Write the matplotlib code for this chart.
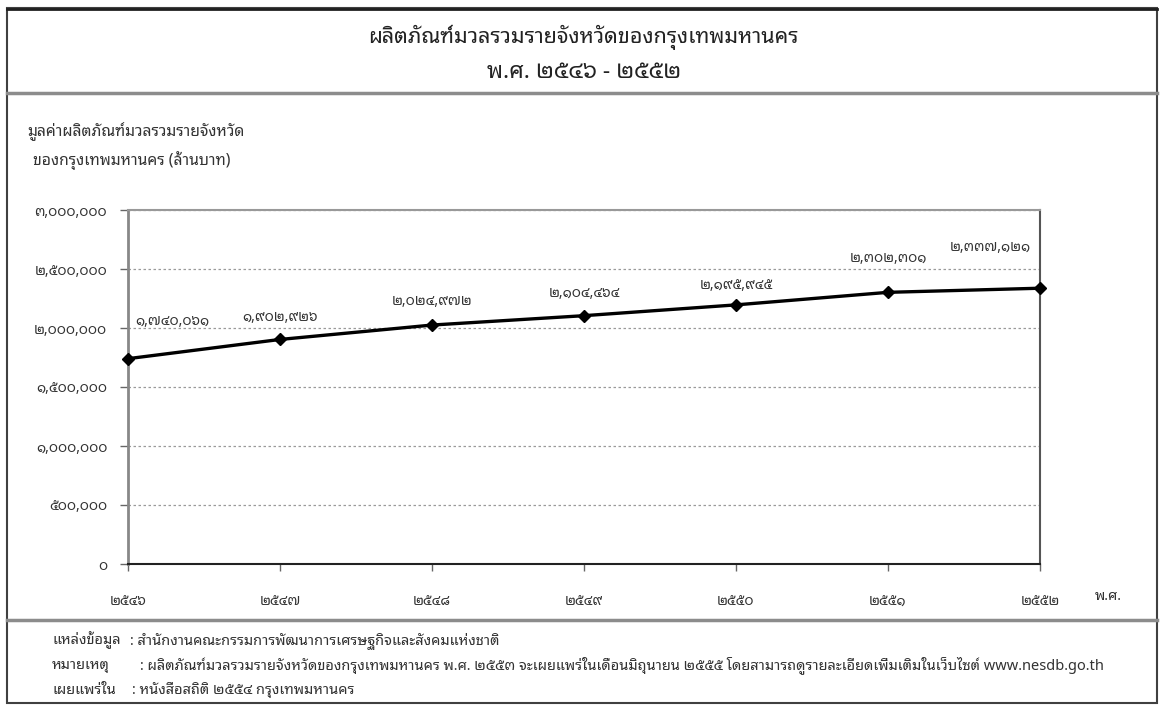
import matplotlib
matplotlib.use("Agg")
import matplotlib.pyplot as plt
from matplotlib.lines import Line2D
from matplotlib.patches import Rectangle

plt.rcParams['font.family'] = ['Noto Sans Thai Looped', 'DejaVu Sans']

# data (million baht)
years = [2546, 2547, 2548, 2549, 2550, 2551, 2552]
gpp = [1740061, 1902926, 2024972, 2104464, 2195945, 2302301, 2337121]
y_ticks = [0, 500000, 1000000, 1500000, 2000000, 2500000, 3000000]

# label placement (offset in points, dx, dy)
label_offsets = [(32, 27), (0, 16), (0, 17), (0, 16), (0, 14), (0, 24), (-36, 29)]

title = "ผลิตภัณฑ์มวลรวมรายจังหวัดของกรุงเทพมหานคร"
subtitle = "พ.ศ. ๒๕๔๖ - ๒๕๕๒"
ylab1 = "มูลค่าผลิตภัณฑ์มวลรวมรายจังหวัด"
ylab2 = "ของกรุงเทพมหานคร (ล้านบาท)"
note_heads = ["แหล่งข้อมูล", "หมายเหตุ", "เผยแพร่ใน"]
note_texts = [
    ": สำนักงานคณะกรรมการพัฒนาการเศรษฐกิจและสังคมแห่งชาติ",
    ": ผลิตภัณฑ์มวลรวมรายจังหวัดของกรุงเทพมหานคร พ.ศ. ๒๕๕๓ จะเผยแพร่ในเดือนมิถุนายน ๒๕๕๕ โดยสามารถดูรายละเอียดเพิ่มเติมในเว็บไซต์ www.nesdb.go.th",
    ": หนังสือสถิติ ๒๕๕๔ กรุงเทพมหานคร",
]
note_colon_x = [130, 140, 132]

thai = str.maketrans("0123456789", "๐๑๒๓๔๕๖๗๘๙")


def th(v):
    return str(v).translate(thai)


def fmt(v):
    return f"{v:,}".translate(thai)


W, H = 1163, 707
fig = plt.figure(figsize=(W / 100, H / 100), dpi=100)


def fx(px):
    return px / W


def fy(py):
    return 1 - py / H


# outer frame and separators
fig.add_artist(Rectangle((fx(7), fy(703)), fx(1157) - fx(7), fy(8) - fy(703),
                         transform=fig.transFigure, fill=False,
                         edgecolor="#404040", linewidth=1.5))
fig.add_artist(Line2D([fx(7), fx(1157)], [fy(9), fy(9)], transform=fig.transFigure,
                      color="#202020", linewidth=2))
for yy in (93, 620):
    fig.add_artist(Line2D([fx(7), fx(1157)], [fy(yy), fy(yy)], transform=fig.transFigure,
                          color="#8c8c8c", linewidth=2.5))

fig.text(fx(583), fy(37), title, ha="center", va="center", fontsize=15.5, color="#222222")
fig.text(fx(584), fy(72), subtitle, ha="center", va="center", fontsize=16.5,
         fontweight="bold", color="#222222")
fig.text(fx(27), fy(136), ylab1, ha="left", va="baseline", fontsize=11.3, color="#333333")
fig.text(fx(33), fy(165), ylab2, ha="left", va="baseline", fontsize=11.3, color="#333333")

for i, (head, txt, cx) in enumerate(zip(note_heads, note_texts, note_colon_x)):
    yy = fy(644 + 25 * i)
    fig.text(fx(52), yy, head, ha="left", va="baseline", fontsize=10.5, color="#333333")
    fig.text(fx(cx), yy, txt, ha="left", va="baseline", fontsize=10.5, color="#333333")

ax = fig.add_axes([fx(128), fy(564), fx(1040) - fx(128), fy(210) - fy(564)])
ax.plot(years, gpp, color="black", linewidth=2.4, marker="D", markersize=6,
        zorder=3, clip_on=False)

for x, v, (dx, dy) in zip(years, gpp, label_offsets):
    ax.annotate(fmt(v), (x, v), xytext=(dx, dy), textcoords="offset points",
                ha="center", va="center", fontsize=10, color="#333333")

ax.set_xlim(years[0], years[-1])
ax.set_ylim(0, 3000000)
ax.set_yticks(y_ticks)
ax.set_yticklabels([fmt(v) for v in y_ticks])
ax.set_xticks(years)
ax.set_xticklabels([th(y) for y in years])
ax.tick_params(axis="y", length=6, width=1, color="#666666", labelsize=10,
               labelcolor="#333333", pad=9)
ax.tick_params(axis="x", length=5, width=1, color="#666666", labelsize=10,
               labelcolor="#333333", pad=17)
ax.yaxis.grid(True, linestyle=(0, (2, 2)), color="#9a9a9a", linewidth=0.9)
ax.set_axisbelow(True)
ax.spines["left"].set_color("#888888")
ax.spines["left"].set_linewidth(2)
ax.spines["top"].set_color("#999999")
ax.spines["top"].set_linewidth(1.5)
ax.spines["right"].set_color("#555555")
ax.spines["right"].set_linewidth(1.5)
ax.spines["bottom"].set_color("#222222")
ax.spines["bottom"].set_linewidth(1.5)

fig.text(fx(1108), fy(597), "พ.ศ.", ha="center", va="center", fontsize=10.5, color="#333333")

fig.savefig("out.png", dpi=100)
